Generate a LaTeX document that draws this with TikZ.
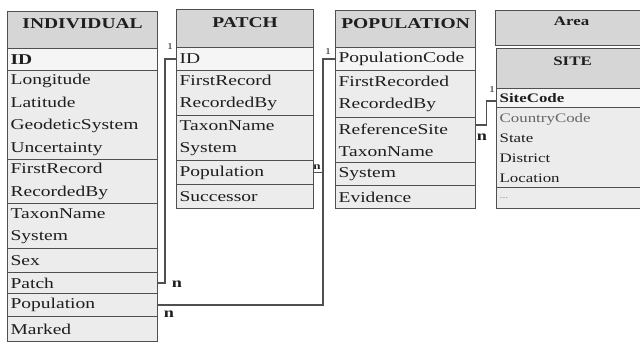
\documentclass[tikz,border=0pt]{standalone}
\usepackage{fontspec}
\setmainfont[FakeStretch=1.3]{Liberation Serif}
\usepackage{tikz}

\definecolor{headgray}{HTML}{D6D6D6}
\definecolor{rowgray}{HTML}{ECECEC}
\definecolor{keygray}{HTML}{F5F5F5}
\definecolor{linegray}{HTML}{505050}
\definecolor{textgray}{HTML}{1E1E1E}

\begin{document}
\begin{tikzpicture}[x=1pt, y=-1pt,
  tablehead/.style={draw=linegray, line width=1.2pt, fill=headgray, anchor=north west,
    inner xsep=0pt, inner ysep=2pt, text=textgray, font=\fontsize{15}{18}\selectfont\bfseries},
  tablerow/.style={draw=linegray, line width=1.2pt, fill=rowgray, anchor=north west,
    inner xsep=3pt, inner ysep=0pt, align=left, text=textgray, font=\fontsize{15}{22.5}\selectfont},
  siterow/.style={tablerow, font=\fontsize{13}{20}\selectfont},
  relation/.style={draw=linegray, line width=1.3pt},
  card/.style={inner sep=0pt, text=textgray, font=\fontsize{9}{9}\selectfont},
  mult/.style={inner sep=0pt, text=textgray, font=\fontsize{14}{14}\selectfont\bfseries}]

  \clip (0,0) rectangle (640,342);

  % INDIVIDUAL
  \node[tablehead, minimum width=150pt, text height=15pt, text depth=18pt] (ind) at (7,11) {INDIVIDUAL};
  \foreach \y/\h/\n/\t in {48/22/id/\textbf{ID}, 70/89/geo/{Longitude\\Latitude\\GeodeticSystem\\Uncertainty},
      159/44/rec/{FirstRecord\\RecordedBy}, 203/45/tax/{TaxonName\\System}, 248/24/sex/Sex,
      272/21/patch/Patch, 293/23/pop/Population, 316/25/marked/Marked}
    \node[tablerow, text width=144pt, minimum height=\h pt] (ind-\n) at (7,\y) {\t};
  \node[tablerow, fill=keygray, text width=144pt, minimum height=22pt] (ind-id) at (7,48) {\textbf{ID}};

  % PATCH
  \node[tablehead, minimum width=137pt, text height=16pt, text depth=18pt] (patch) at (176,9) {PATCH};
  \foreach \y/\h/\n/\t in {47/23/id/ID, 70/45/rec/{FirstRecord\\RecordedBy}, 115/45/tax/{TaxonName\\System},
      160/24/pop/Population, 184/24/succ/Successor}
    \node[tablerow, text width=131pt, minimum height=\h pt] (patch-\n) at (176,\y) {\t};
  \node[tablerow, fill=keygray, text width=131pt, minimum height=23pt] (patch-id) at (176,47) {ID};

  % POPULATION
  \node[tablehead, minimum width=140pt, text height=16pt, text depth=17pt] (pop) at (335,10) {POPULATION};
  \foreach \y/\h/\n/\t in {47/23/code/PopulationCode, 70/47/rec/{FirstRecorded\\RecordedBy},
      117/45/ref/{ReferenceSite\\TaxonName}, 162/23/sys/System, 185/23/evid/Evidence}
    \node[tablerow, text width=134pt, minimum height=\h pt] (pop-\n) at (335,\y) {\t};
  \node[tablerow, fill=keygray, text width=134pt, minimum height=23pt] (pop-code) at (335,47) {PopulationCode};

  % Area / SITE
  \node[tablehead, minimum width=152pt, text height=13pt, text depth=18pt, font=\fontsize{13}{16}\selectfont\bfseries] (area) at (495,10) {Area};
  \node[tablehead, minimum width=152pt, text height=15pt, text depth=21pt, font=\fontsize{13}{16}\selectfont\bfseries] (site) at (496,48) {SITE};
  \node[siterow, fill=keygray, text width=154pt, minimum height=19pt] (site-code) at (496,88) {\textbf{SiteCode}};
  \node[siterow, text width=154pt, minimum height=80pt] (site-loc) at (496,107) {{\color{black!60}CountryCode}\\State\\District\\Location};
  \node[siterow, text width=154pt, minimum height=21pt, font=\fontsize{9}{9}\selectfont, text=black!45] (site-more) at (496,187) {...};

  % relations
  \draw[relation] (patch-id.west) -- ++(-11,0) |- (ind-patch.east);
  \draw[relation] (pop-code.west) -- ++(-12,0) coordinate (popbend) |- (ind-pop.east);
  \draw[relation] (patch-pop.east) -- (patch-pop.east -| popbend);
  \draw[relation] ([yshift=-8pt]pop-ref.north east) -- ++(10,0) |- ([yshift=-3pt]site-code.west);

  \node[card] (one-patch) at (170,47) {1};
  \node[mult] (n-patch) at (177,284) {n};
  \node[card] (one-pop) at (328,52) {1};
  \node[mult] (n-pop) at (169,314) {n};
  \node[mult, font=\fontsize{10}{10}\selectfont\bfseries] (n-patchpop) at (317,167) {n};
  \node[card] (one-site) at (492,90) {1};
  \node[mult] (n-site) at (482,137) {n};

\end{tikzpicture}
\end{document}
